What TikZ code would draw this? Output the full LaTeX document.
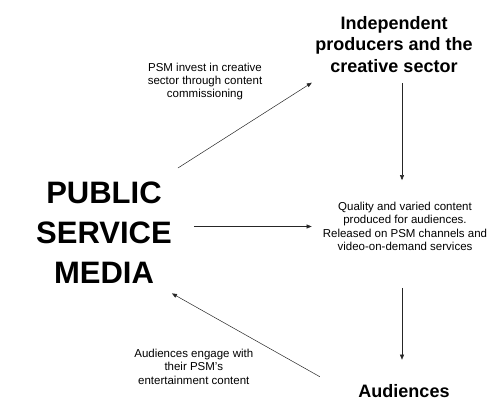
\documentclass[tikz,border=0pt]{standalone}
\usepackage{fontspec}
\setmainfont{Liberation Sans}
\usetikzlibrary{arrows.meta, positioning}
\tikzset{
  psmtitle/.style={align=center, inner sep=0pt,
    font=\fontsize{31}{39.7}\selectfont\bfseries},
  actorbox/.style={align=center, inner sep=0pt,
    font=\fontsize{18}{21.3}\selectfont\bfseries},
  notetext/.style={align=center, inner sep=0pt,
    font=\fontsize{11.5}{13.3}\selectfont},
  flow/.style={-{Triangle[length=5pt, width=4pt]}, line width=0.5pt, draw=black!85},
}

\begin{document}
\begin{tikzpicture}[x=1pt, y=1pt]
    \path[use as bounding box] (0,0) rectangle (489,402);
    \node[psmtitle] (psm) at (104,169.3) {PUBLIC\\SERVICE\\MEDIA};
    \node[actorbox] (indep) at (394,357.7) {Independent\\producers and the\\creative sector};
    \node[notetext] (content) at (405,175.5) {Quality and varied content\\produced for audiences.\\Released on PSM channels and\\video-on-demand services};
    \node[actorbox] (aud) at (404,10.5) {Audiences};
    \node[notetext] (invest) at (205,320.3) {PSM invest in creative\\sector through content\\commissioning};
    \node[notetext] (engage) at (193.8,35.2) {Audiences engage with\\their PSM's\\entertainment content};
    % the cycle
    \draw[flow] ([shift={(6pt,14pt)}]psm.north east) -- ([shift={(-3.5pt,-10.3pt)}]indep.south west);
    \draw[flow, shorten <=11pt, shorten >=22pt] ([xshift=8pt]indep.south) -- ([xshift=8pt]indep.south |- content.north);
    \draw[flow] ([xshift=22pt]psm.east |- content.west) -- ([xshift=-11pt]content.west);
    \draw[flow, shorten <=37pt, shorten >=25pt] ([xshift=-3pt]content.south) -- ([xshift=-3pt]content.south |- aud.north);
    \draw[flow] ([shift={(-38.5pt,8pt)}]aud.north west) -- ([yshift=-10pt]psm.south east);
\end{tikzpicture}
\end{document}
